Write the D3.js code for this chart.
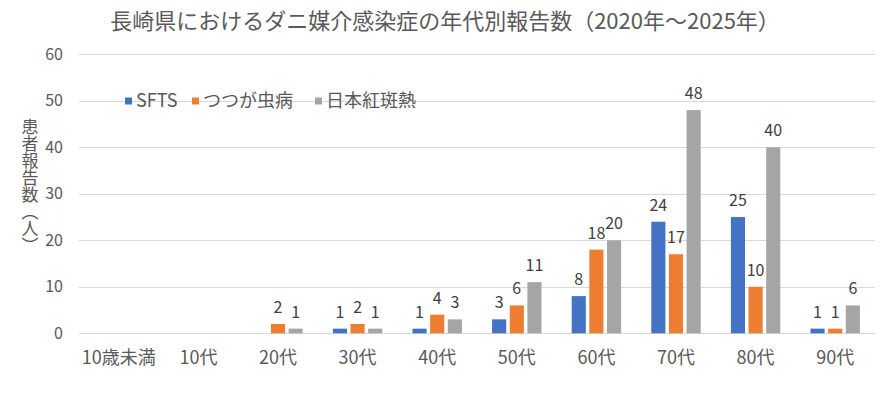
<!DOCTYPE html>
<html>
<head>
<meta charset="utf-8">
<script src="https://cdn.jsdelivr.net/npm/d3@7"></script>
<style>
  body { margin: 0; background: #fff; }
  svg { display: block; font-family: "Noto Sans CJK JP", "Noto Sans", sans-serif; }
</style>
</head>
<body>
<svg id="chart" width="888" height="396"></svg>
<script>
const categories = ["10歳未満", "10代", "20代", "30代", "40代", "50代", "60代", "70代", "80代", "90代"];
const seriesNames = ["SFTS", "つつが虫病", "日本紅斑熱"];
const sfts = [0, 0, 0, 1, 1, 3, 8, 24, 25, 1];
const tsutsugamushi = [0, 0, 2, 2, 4, 6, 18, 17, 10, 1];
const japaneseSpotted = [0, 0, 1, 1, 3, 11, 20, 48, 40, 6];
const yTicks = [0, 10, 20, 30, 40, 50, 60];
const colors = ["#4472C4", "#ED7D31", "#A5A5A5"];

const values = [sfts, tsutsugamushi, japaneseSpotted];
const rows = categories.map((c, i) => ({
  cat: c,
  vals: seriesNames.map((s, j) => ({ key: s, value: values[j][i] }))
}));

const svg = d3.select('#chart');
const plotLeft = 79, plotRight = 875, plotTop = 54.3, plotBottom = 333.3;

const x0 = d3.scaleBand().domain(categories).range([plotLeft, plotRight]).paddingInner(0).paddingOuter(0);
const groupW = 49.4;
const x1 = d3.scaleBand().domain(seriesNames).range([0, groupW]).paddingInner(0.2);
const y = d3.scaleLinear().domain([0, 60]).range([plotBottom, plotTop]);
const color = d3.scaleOrdinal().domain(seriesNames).range(colors);

// title
svg.append('text')
  .attr('x', 445).attr('y', 29)
  .attr('text-anchor', 'middle')
  .attr('font-size', 22)
  .attr('fill', '#595959')
  .text('長崎県におけるダニ媒介感染症の年代別報告数（2020年～2025年）');

// gridlines
svg.append('g')
  .selectAll('line')
  .data(yTicks)
  .join('line')
  .attr('x1', plotLeft).attr('x2', plotRight)
  .attr('y1', d => Math.round(y(d)) + 0.5)
  .attr('y2', d => Math.round(y(d)) + 0.5)
  .attr('stroke', '#d9d9d9')
  .attr('stroke-width', 1);

// y tick labels
svg.append('g')
  .selectAll('text')
  .data(yTicks)
  .join('text')
  .attr('x', 63)
  .attr('y', d => y(d))
  .attr('dy', '0.35em')
  .attr('text-anchor', 'end')
  .attr('font-size', 16)
  .attr('fill', '#595959')
  .text(d => d);

// y axis title
svg.append('text')
  .attr('x', 30).attr('y', 186)
  .attr('text-anchor', 'middle')
  .attr('font-size', 17)
  .attr('fill', '#595959')
  .style('writing-mode', 'vertical-rl')
  .style('text-orientation', 'upright')
  .text('患者報告数（人）');

// bars
const groups = svg.append('g')
  .selectAll('g')
  .data(rows)
  .join('g')
  .attr('transform', d => `translate(${x0(d.cat) + (x0.bandwidth() - groupW) / 2},0)`);

groups.selectAll('rect')
  .data(d => d.vals)
  .join('rect')
  .attr('x', d => x1(d.key))
  .attr('y', d => y(d.value))
  .attr('width', x1.bandwidth())
  .attr('height', d => y(0) - y(d.value))
  .attr('fill', d => color(d.key));

groups.selectAll('text')
  .data(d => d.vals.filter(v => v.value > 0))
  .join('text')
  .attr('x', d => x1(d.key) + x1.bandwidth() / 2)
  .attr('y', d => y(d.value) - 11)
  .attr('text-anchor', 'middle')
  .attr('font-size', 16)
  .attr('fill', '#404040')
  .text(d => d.value);

// category labels
svg.append('g')
  .selectAll('text')
  .data(categories)
  .join('text')
  .attr('x', d => x0(d) + x0.bandwidth() / 2)
  .attr('y', 364)
  .attr('text-anchor', 'middle')
  .attr('font-size', 18)
  .attr('fill', '#595959')
  .text(d => d);

// legend
const legendX = [125, 192, 315];
const legend = svg.append('g')
  .selectAll('g')
  .data(seriesNames)
  .join('g')
  .attr('transform', (d, i) => `translate(${legendX[i]},101)`);

legend.append('rect')
  .attr('x', 0).attr('y', -3.5)
  .attr('width', 7).attr('height', 7)
  .attr('fill', d => color(d));

legend.append('text')
  .attr('x', 11).attr('y', 0)
  .attr('dy', '0.35em')
  .attr('font-size', 18)
  .attr('fill', '#595959')
  .text(d => d);
</script>
</body>
</html>
